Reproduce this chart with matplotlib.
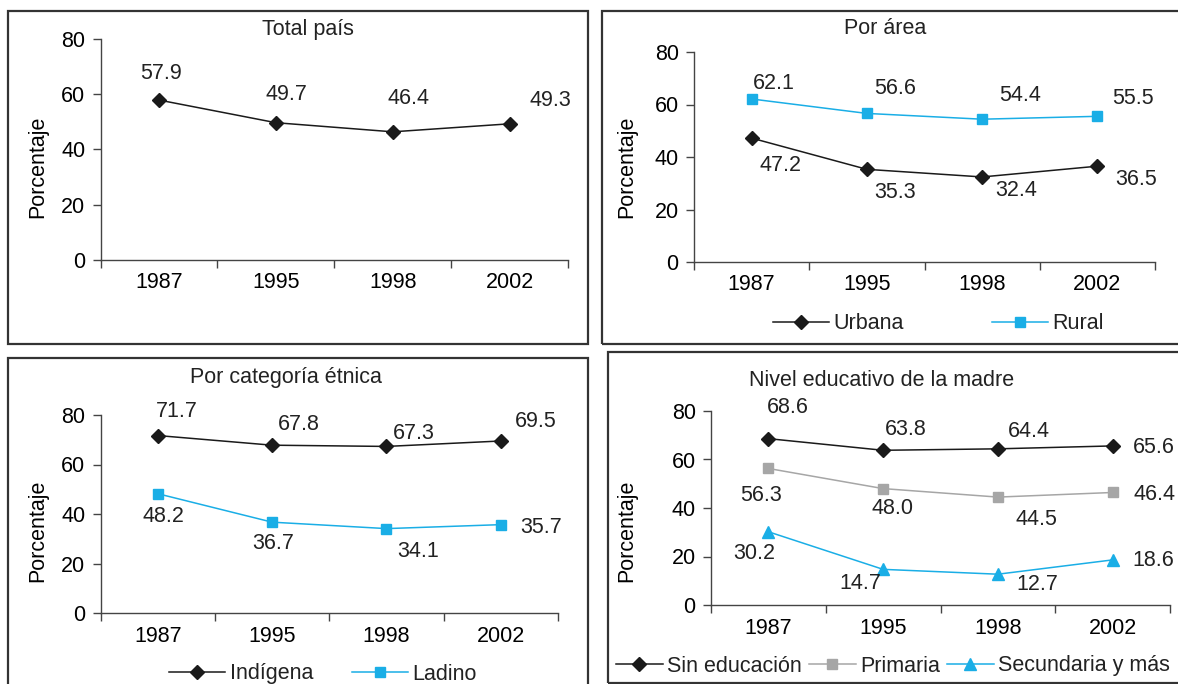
import matplotlib
matplotlib.use("Agg")
import matplotlib.pyplot as plt
from matplotlib.patches import Rectangle

plt.rcParams['font.family'] = ['Liberation Sans', 'DejaVu Sans']
plt.rcParams['text.color'] = '#222222'

# ---------------------------------------------------
# data
# ---------------------------------------------------
years = ['1987', '1995', '1998', '2002']

total_pais = [57.9, 49.7, 46.4, 49.3]

urbana = [47.2, 35.3, 32.4, 36.5]
rural = [62.1, 56.6, 54.4, 55.5]

indigena = [71.7, 67.8, 67.3, 69.5]
ladino = [48.2, 36.7, 34.1, 35.7]

sin_educacion = [68.6, 63.8, 64.4, 65.6]
primaria = [56.3, 48.0, 44.5, 46.4]
secundaria = [30.2, 14.7, 12.7, 18.6]

# ---------------------------------------------------
# styles
# ---------------------------------------------------
W, H = 1178, 684
FS = 15.5
BLACK = '#1a1a1a'
BLUE = '#1aaee6'
GRAY = '#a6a6a6'
AXC = '#444444'

fig = plt.figure(figsize=(W / 100, H / 100), dpi=100)


def px_rect(x0, y0, x1, y1):
    # pixel box (origin top-left) -> figure fraction [l, b, w, h]
    return [x0 / W, 1 - y1 / H, (x1 - x0) / W, (y1 - y0) / H]


def panel_border(x0, y0, x1, y1):
    l, b, w, h = px_rect(x0, y0, x1, y1)
    fig.add_artist(Rectangle((l, b), w, h, transform=fig.transFigure,
                             fill=False, ec='#333333', lw=1.6, clip_on=False))


def make_axes(box, title, title_px, ylab_px):
    x0, y0, x1, y1 = box
    ax = fig.add_axes(px_rect(*box))
    ax.set_xlim(-0.5, 3.5)
    ax.set_ylim(0, 80)
    ax.set_yticks([0, 20, 40, 60, 80])
    ax.set_xticks(range(4))
    ax.set_xticklabels(years)
    ax.set_xticks([-0.5, 0.5, 1.5, 2.5, 3.5], minor=True)
    ax.tick_params(axis='x', which='major', length=0, pad=9, labelsize=FS)
    ax.tick_params(axis='x', which='minor', length=6, width=1, color=AXC)
    ax.tick_params(axis='y', length=6, width=1, color=AXC, pad=5, labelsize=FS)
    for s in ['top', 'right']:
        ax.spines[s].set_visible(False)
    for s in ['left', 'bottom']:
        ax.spines[s].set_color(AXC)
        ax.spines[s].set_linewidth(1.0)
    ax.set_ylabel('Porcentaje', fontsize=FS)
    # label anchor is the right edge of the rotated text
    ax.yaxis.set_label_coords((ylab_px[0] + 10 - x0) / (x1 - x0),
                              (y1 - ylab_px[1]) / (y1 - y0))
    fig.text(title_px[0] / W, 1 - title_px[1] / H, title, fontsize=FS,
             ha='center', va='center')
    return ax


def plot_series(ax, values, offsets, label, color, marker, ms, lw=1.1):
    ax.plot(range(len(values)), values, color=color, marker=marker, ms=ms,
            mfc=color, mec=color, lw=lw, label=label, clip_on=False)
    for i, (v, (dx, dy)) in enumerate(zip(values, offsets)):
        ax.annotate(f'{v:.1f}', (i, v), xytext=(dx, dy),
                    textcoords='offset pixels', ha='center', va='center',
                    fontsize=FS)


def add_legend(ax, cx, cy, colspacing, handlelength=2.6):
    ax.legend(loc='center', bbox_to_anchor=(cx / W, 1 - cy / H),
              bbox_transform=fig.transFigure, ncol=3, frameon=False,
              fontsize=FS, handlelength=handlelength, handletextpad=0.2,
              columnspacing=colspacing, borderpad=0, borderaxespad=0)


# ---------------------------------------------------
# borders
# ---------------------------------------------------
panel_border(7.5, 11, 588, 344)
panel_border(602, 11, 1190, 344)
panel_border(7.5, 358, 588, 700)
panel_border(607.5, 352, 1190, 683)

# ---------------------------------------------------
# 1. Total país
# ---------------------------------------------------
ax1 = make_axes((100.6, 39, 568, 260), 'Total país', (308, 29), (38, 167))
plot_series(ax1, total_pais, [(2, 27), (11, 28), (16, 33), (41, 23)],
            None, BLACK, 'D', 7)

# ---------------------------------------------------
# 2. Por área
# ---------------------------------------------------
ax2 = make_axes((694, 52, 1155, 262), 'Por área', (885, 29), (627, 167))
plot_series(ax2, urbana, [(29, -27), (28, -23), (34, -14), (39, -13)],
            'Urbana', BLACK, 'D', 7)
plot_series(ax2, rural, [(22, 15), (28, 25), (38, 24), (36, 18)],
            'Rural', BLUE, 's', 7.5)
add_legend(ax2, 938, 324, 4.1)

# ---------------------------------------------------
# 3. Por categoría étnica
# ---------------------------------------------------
ax3 = make_axes((100.6, 415, 558, 613), 'Por categoría étnica', (286, 377),
                (38, 531))
plot_series(ax3, indigena, [(19, 24), (27, 21), (27, 13), (35, 19)],
            'Indígena', BLACK, 'D', 7)
plot_series(ax3, ladino, [(6, -23), (1, -21), (32, -23), (40, -3)],
            'Ladino', BLUE, 's', 7.5)
add_legend(ax3, 323, 674, 1.8)

# ---------------------------------------------------
# 4. Nivel educativo de la madre
# ---------------------------------------------------
ax4 = make_axes((711, 411, 1170, 605), 'Nivel educativo de la madre',
                (882, 380), (627, 531))
plot_series(ax4, sin_educacion, [(19, 31), (23, 21), (31, 17), (41, -2)],
            'Sin educación', BLACK, 'D', 7)
plot_series(ax4, primaria, [(-7, -27), (9, -20), (39, -22), (42, -2)],
            'Primaria', GRAY, 's', 7.5)
plot_series(ax4, secundaria, [(-14, -22), (-23, -14), (39, -10), (41, -1)],
            'Secundaria y más', BLUE, '^', 9)
add_legend(ax4, 893, 666, 0.3, handlelength=2.2)

fig.savefig('out.png', dpi=100, facecolor='white')
